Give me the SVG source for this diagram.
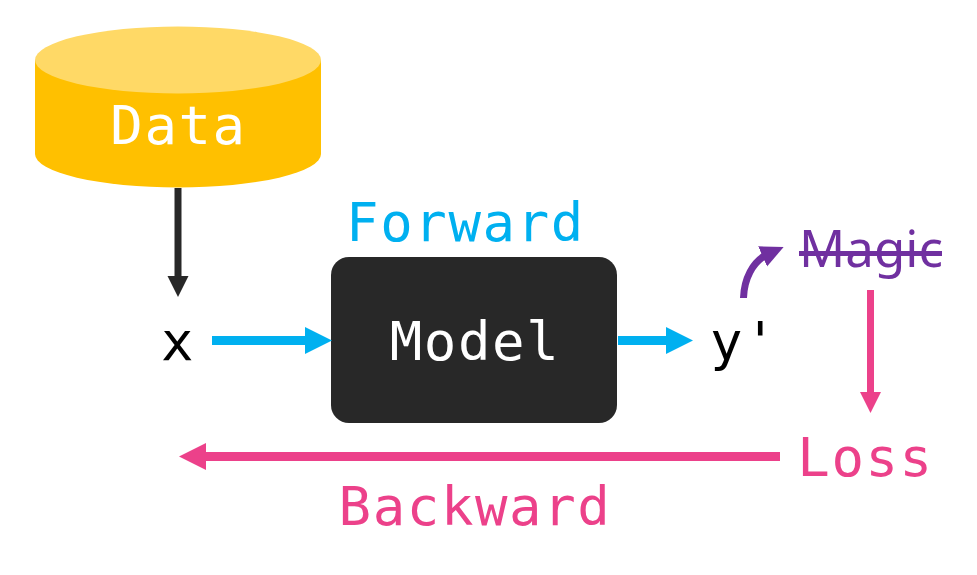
<svg xmlns="http://www.w3.org/2000/svg" width="977" height="575" viewBox="0 0 977 575">
<style>
text{font-family:"DejaVu Sans Mono","Liberation Mono",monospace;font-size:54px;letter-spacing:1.6px;text-anchor:middle}
.l{fill:none;stroke-width:7}
.t{fill:none;stroke-width:9}
</style>
<defs>
<marker id="k" markerUnits="userSpaceOnUse" markerWidth="21" markerHeight="22" refX="10" refY="11" orient="auto"><path d="M0 0.5L21 11L0 21.500z" fill="#282828"/></marker>
<marker id="b" markerUnits="userSpaceOnUse" markerWidth="27" markerHeight="28" refX="10" refY="14" orient="auto"><path d="M0 0.500L27 14L0 27.500z" fill="#00b0f0"/></marker>
<marker id="p" markerUnits="userSpaceOnUse" markerWidth="21" markerHeight="22" refX="10" refY="11" orient="auto"><path d="M0 0.5L21 11L0 21.500z" fill="#ec418a"/></marker>
<marker id="q" markerUnits="userSpaceOnUse" markerWidth="27" markerHeight="28" refX="10" refY="14" orient="auto"><path d="M0 0.500L27 14L0 27.500z" fill="#ec418a"/></marker>
<marker id="v" markerUnits="userSpaceOnUse" markerWidth="23" markerHeight="24" refX="7" refY="12" orient="auto"><path d="M0 1L23 12L0 23z" fill="#7030a0"/></marker>
</defs>
<rect width="977" height="575" fill="#fff"/>
<g id="data">
<path d="M35 60V154A143 33.500 0 0 0 321 154V60z" fill="#ffc000"/>
<ellipse cx="178" cy="60" rx="143" ry="33.500" fill="#ffd966"/>
<text x="178.500" y="144" fill="#fff">Data</text>
</g>
<g id="model">
<rect x="331" y="257" width="286" height="166" rx="18" fill="#282828"/>
<text x="475" y="360" fill="#fff">Model</text>
</g>
<g id="x"><text x="178" y="360" fill="#000">x</text></g>
<g id="y"><text x="744" y="360" fill="#000">y'</text></g>
<g id="forward"><text x="465.500" y="241" fill="#00b0f0">Forward</text></g>
<g id="magic"><text x="871" y="267" fill="#7030a0" style="font-family:'Noto Sans','Open Sans',sans-serif;font-size:51px;letter-spacing:0">Magic</text><path d="M799 253.500H942" stroke="#7030a0" stroke-width="5"/></g>
<g id="loss"><text x="865.500" y="476" fill="#ec418a">Loss</text></g>
<g id="backward"><text x="475" y="525" fill="#ec418a">Backward</text></g>
<g id="connectors">
<path class="l" d="M178 188V286" stroke="#282828" marker-end="url(#k)"/>
<path class="t" d="M212 340.500H315" stroke="#00b0f0" marker-end="url(#b)"/>
<path class="t" d="M618 340.500H676" stroke="#00b0f0" marker-end="url(#b)"/>
<path class="l" d="M743.500 298C744 280 752 261 769 253.500" stroke="#7030a0" marker-end="url(#v)"/>
<path class="l" d="M870.500 290V402" stroke="#ec418a" marker-end="url(#p)"/>
<path class="t" d="M780 456.500H196" stroke="#ec418a" marker-end="url(#q)"/>
</g>
</svg>
